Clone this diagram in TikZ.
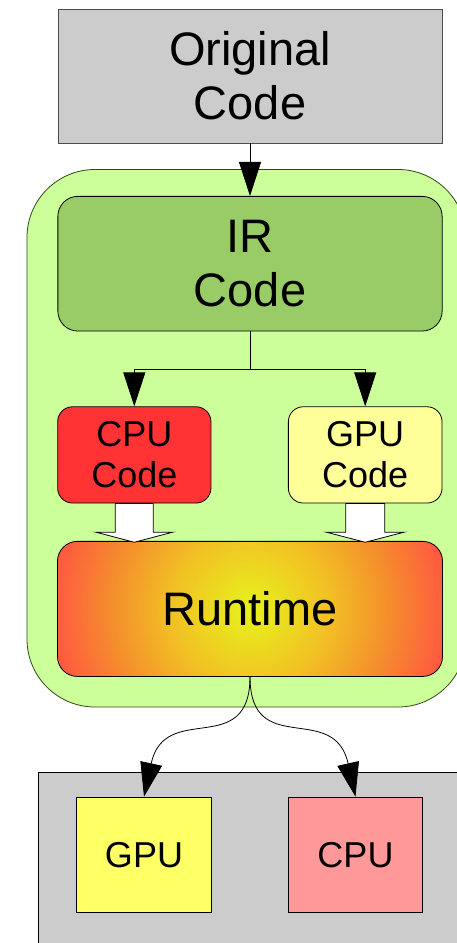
\documentclass[tikz,border=0pt]{standalone}
\usepackage{fontspec}
\setmainfont{Liberation Sans}
\usetikzlibrary{arrows.meta,calc}

\definecolor{boxgray}{HTML}{CCCCCC}
\definecolor{panelgreen}{HTML}{CCFF99}
\definecolor{panelline}{HTML}{2F4A14}
\definecolor{irgreen}{HTML}{99CC66}
\definecolor{cpured}{HTML}{FF3333}
\definecolor{gpucream}{HTML}{FFFF99}
\definecolor{gpuyellow}{HTML}{FFFF66}
\definecolor{cpupink}{HTML}{FF9999}
\definecolor{rtyellow}{HTML}{E6F31C}
\definecolor{rtamber}{HTML}{F2BF24}
\definecolor{rtorange}{HTML}{F4902C}
\definecolor{rtred}{HTML}{FF5A40}

% radial fill for the runtime block: yellow core fading to red
% (the -25bp..25bp square is what gets fitted to the shaded path)
\pgfdeclareradialshading{runtimeshade}{\pgfpoint{0bp}{0bp}}{%
  color(0bp)=(rtyellow); color(10bp)=(rtamber); color(17bp)=(rtorange);
  color(24.5bp)=(rtred); color(50bp)=(rtred)}

\tikzset{
  x=1pt, y=-1pt,
  bigtext/.style={font=\fontsize{47}{54}\selectfont, align=center},
  smalltext/.style={font=\fontsize{36}{41}\selectfont, align=center},
  box/.style={draw, line width=0.8pt, inner sep=0pt},
  arrow/.style={line width=0.8pt, -{Triangle[length=34pt,width=22pt]}},
  blockarrow/.style={draw, fill=white, line width=0.8pt, line join=miter},
}

\begin{document}
\begin{tikzpicture}
\useasboundingbox (0,0) rectangle (456,943);

% source
\node[box, draw=black!70, fill=boxgray, minimum width=384pt, minimum height=134pt, bigtext]
  (orig) at (250,76) {Original\\Code};

% compilation panel
\node[box, draw=panelline, fill=panelgreen, rounded corners=68pt,
      minimum width=439pt, minimum height=537.5pt] (panel) at (246.5,438.25) {};

\node[box, fill=irgreen, rounded corners=20pt, minimum width=384.3pt, minimum height=134.7pt, bigtext]
  (ir) at (250,263.7) {IR\\Code};

\node[box, fill=cpured, rounded corners=15pt, minimum width=153.3pt, minimum height=96.3pt, smalltext]
  (cpucode) at (134.3,454.9) {CPU\\Code};
\node[box, fill=gpucream, rounded corners=15pt, minimum width=153.7pt, minimum height=96.3pt, smalltext]
  (gpucode) at (365.2,454.9) {GPU\\Code};

% runtime block with its radial fill
\node[box, draw=none, minimum width=384.3pt, minimum height=134.3pt] (runtime) at (250,608.9) {};
\begin{scope}
  \clip[rounded corners=20pt] (runtime.north west) rectangle (runtime.south east);
  \shade[shading=runtimeshade] (50,409) rectangle (450,809);
\end{scope}
\draw[line width=0.8pt, rounded corners=20pt] (runtime.north west) rectangle (runtime.south east);
\node[bigtext] (rtlabel) at (runtime.center) {Runtime};

% hollow block arrows into the runtime
\path[blockarrow, shift={(cpucode.south)}]
  (-19,0) -- (-19,28.7) -- (-38.5,28.7) -- (0,38.8) -- (38.5,28.7) -- (19,28.7) -- (19,0) -- cycle;
\path[blockarrow, shift={(gpucode.south)}]
  (-19.5,0) -- (-19.5,28.7) -- (-39,28.7) -- (0,38.8) -- (39,28.7) -- (19.5,28.7) -- (19.5,0) -- cycle;

% devices
\node[box, fill=boxgray, minimum width=440pt, minimum height=190pt] (devices) at (258.3,867.3) {};
\node[box, fill=gpuyellow, minimum width=134.6pt, minimum height=115.3pt, smalltext]
  (gpu) at (144,854.7) {GPU};
\node[box, fill=cpupink, minimum width=134.4pt, minimum height=115.3pt, smalltext]
  (cpu) at (355.5,854.7) {CPU};

% connectors
\draw[arrow] (orig.south) -- (ir.north);
\draw[line width=0.8pt] (ir.south) -- ++(0,38) coordinate (split);
\draw[arrow] (split) -| (cpucode.north);
\draw[arrow] (split) -| (gpucode.north);
\draw[arrow] (runtime.south) .. controls (250,760) and (165,700) .. (gpu.north);
\draw[arrow] (runtime.south) .. controls (250,760) and (334,700) .. (cpu.north);
\end{tikzpicture}
\end{document}
